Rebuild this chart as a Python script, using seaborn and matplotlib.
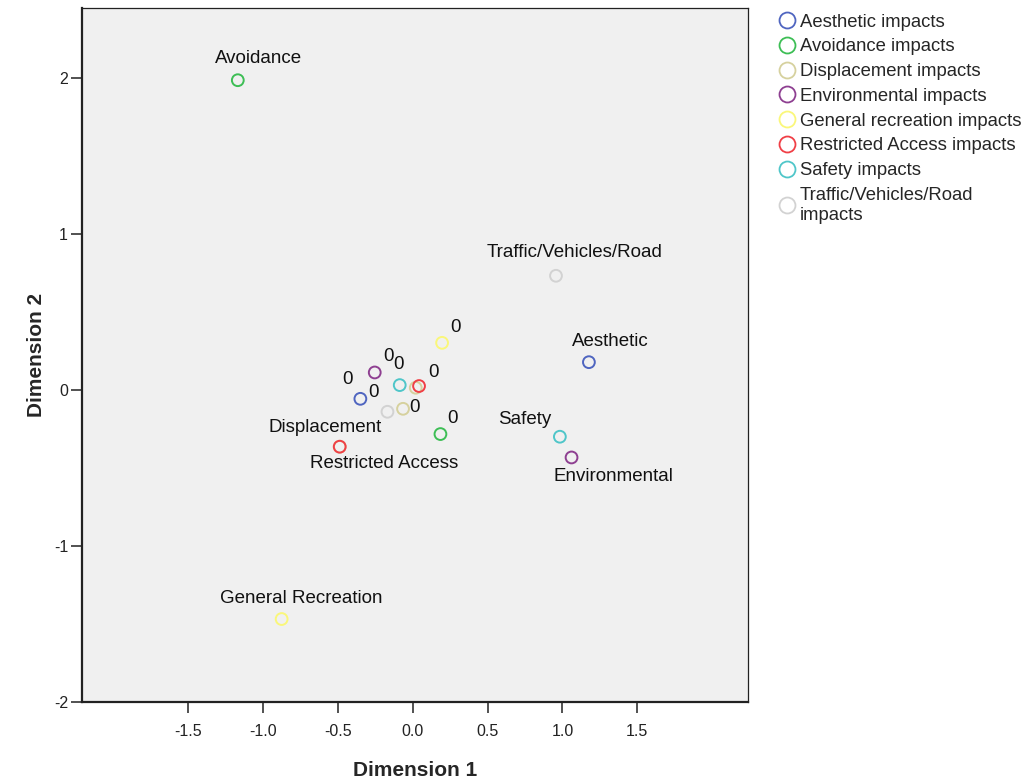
import matplotlib
matplotlib.use("Agg")
import matplotlib.pyplot as plt
from matplotlib.lines import Line2D
import pandas as pd
import seaborn as sns

# impact categories and their colours (SPSS style palette)
categories = [
    "Aesthetic impacts",
    "Avoidance impacts",
    "Displacement impacts",
    "Environmental impacts",
    "General recreation impacts",
    "Restricted Access impacts",
    "Safety impacts",
    "Traffic/Vehicles/Road impacts",
]
colors = ["#4F65C0", "#3DBE55", "#D6D19E", "#8E3F91",
          "#FAF77A", "#F03F46", "#4FC6C9", "#D2D2D2"]

# points, in drawing order
point_cat = [0, 0, 1, 1, 2, 2, 2, 3, 3, 4, 4, 5, 5, 6, 6, 7, 7]
dim1 = [1.177, -0.350, -1.169, 0.185, -0.488, 0.020, -0.065, 1.061, -0.254,
        -0.876, 0.196, -0.488, 0.042, 0.983, -0.087, 0.957, -0.169]
dim2 = [0.179, -0.056, 1.987, -0.282, -0.363, 0.015, -0.120, -0.432, 0.113,
        -1.468, 0.303, -0.363, 0.026, -0.299, 0.032, 0.733, -0.139]
point_label = ["Aesthetic", "0", "Avoidance", "0", "Displacement", "", "0",
               "Environmental", "0", "General Recreation", "0",
               "Restricted Access", "0", "Safety", "0",
               "Traffic/Vehicles/Road", ""]
# label offsets in pixels (dx, dy up)
label_offset = [(21, 21), (13, 6), (21, 22), (12, 16), (-15, 19), (0, 0),
                (11, 1), (42, -19), (14, 16), (20, 21), (13, 15), (44, -17),
                (14, 14), (-35, 17), (-1, 21), (19, 23), (0, 0)]
extra_zero = (-0.350, -0.056, -13, 19)  # second "0" left of the blue point

xticks = [-1.5, -1.0, -0.5, 0.0, 0.5, 1.0, 1.5]
yticks = [-2, -1, 0, 1, 2]

df = pd.DataFrame({
    "dim1": dim1,
    "dim2": dim2,
    "group": [categories[i] for i in point_cat],
})

sns.set_style("ticks")
plt.rcParams["font.family"] = ["Liberation Sans", "DejaVu Sans"]

fig = plt.figure(figsize=(10.28, 7.84), dpi=100)
ax = fig.add_axes([82 / 1028, 82 / 784, 666 / 1028, 694 / 784])
ax.set_facecolor("#F0F0F0")

sns.scatterplot(data=df, x="dim1", y="dim2", hue="group",
                hue_order=categories, palette=colors, s=72,
                linewidth=1.4, legend=False, ax=ax)
pts = ax.collections[0]
fcs = pts.get_facecolors()
pts.set_edgecolors(fcs)
pts.set_facecolors("none")

for x, y, lab, (dx, dy) in zip(dim1, dim2, point_label, label_offset):
    if lab:
        ax.annotate(lab, (x, y), xytext=(dx * 0.72, dy * 0.72),
                    textcoords="offset points", ha="center", va="center",
                    fontsize=13.5, color="#111111")
ax.annotate("0", extra_zero[:2],
            xytext=(extra_zero[2] * 0.72, extra_zero[3] * 0.72),
            textcoords="offset points", ha="center", va="center",
            fontsize=13.5, color="#111111")

ax.set_xlim(-2.21, 2.24)
ax.set_ylim(-2.0, 2.45)
ax.set_xticks(xticks)
ax.set_xticklabels([f"{t:.1f}" for t in xticks])
ax.set_yticks(yticks)
ax.set_yticklabels([str(t) for t in yticks])
ax.tick_params(axis="both", length=8, width=1.2, labelsize=11.5,
               color="#333333", labelcolor="#222222")
ax.tick_params(axis="x", pad=8)
ax.tick_params(axis="y", pad=2)
for sp in ax.spines.values():
    sp.set_color("#222222")
    sp.set_linewidth(0.9)
ax.spines["left"].set_linewidth(1.6)
ax.spines["bottom"].set_linewidth(1.6)

ax.set_xlabel("Dimension 1", fontsize=15, fontweight="bold", labelpad=16)
ax.set_ylabel("Dimension 2", fontsize=15, fontweight="bold", labelpad=6)

handles = [Line2D([], [], marker="o", linestyle="none", markersize=11.5,
                  markerfacecolor="none", markeredgecolor=c,
                  markeredgewidth=1.3) for c in colors]
labels = categories[:-1] + ["Traffic/Vehicles/Road\nimpacts"]
fig.legend(handles, labels, loc="upper left", bbox_to_anchor=(0.745, 0.992),
           frameon=False, fontsize=13.3, handletextpad=0.0,
           labelspacing=0.42, handlelength=1.45, borderaxespad=0.0)

fig.savefig("out.png", dpi=100, facecolor="white")
